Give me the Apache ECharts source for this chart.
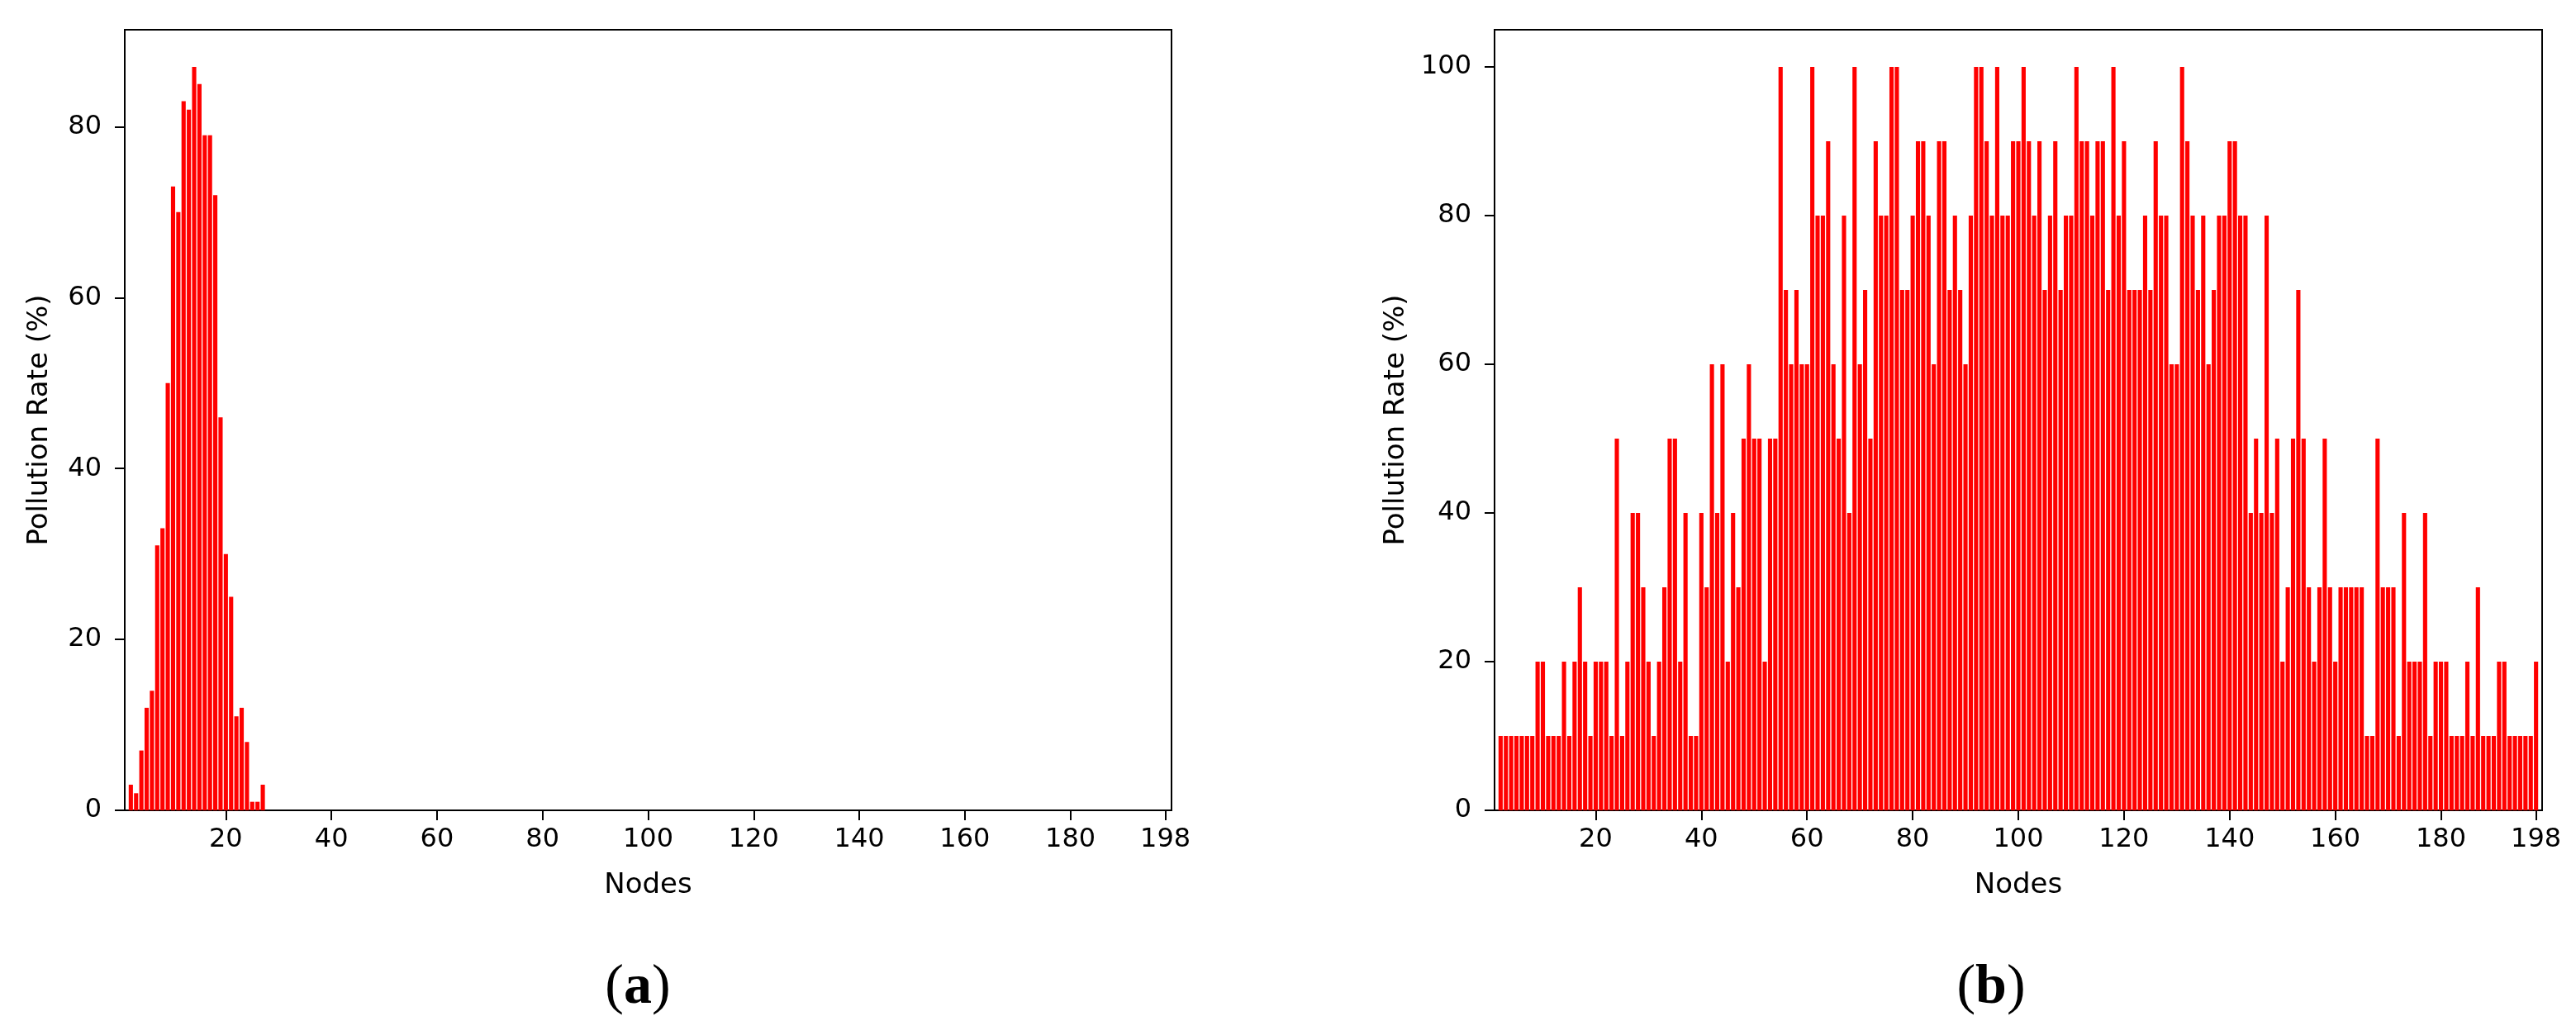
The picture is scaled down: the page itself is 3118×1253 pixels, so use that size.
<!DOCTYPE html>
<html>
<head>
<meta charset="utf-8">
<script src="https://cdn.jsdelivr.net/npm/echarts@6/dist/echarts.min.js"></script>
<style>
  html, body { margin: 0; padding: 0; background: #fff; }
  #chart { width: 3118px; height: 1253px; }
</style>
</head>
<body>
<div id="chart"></div>
<script>
// (a) first node with a bar is 2, later nodes are all 0
const firstNode = 2;
const rateA = [3, 2, 7, 12, 14, 31, 33, 50, 73, 70, 83, 82, 87, 85, 79, 79, 72, 46, 30, 25, 11, 12, 8, 1, 1, 3];

// (b) nodes 2..198
const rateB = [
  10, 10, 10, 10, 10, 10, 10, 20, 20, 10,
  10, 10, 20, 10, 20, 30, 20, 10, 20, 20,
  20, 10, 50, 10, 20, 40, 40, 30, 20, 10,
  20, 30, 50, 50, 20, 40, 10, 10, 40, 30,
  60, 40, 60, 20, 40, 30, 50, 60, 50, 50,
  20, 50, 50, 100, 70, 60, 70, 60, 60, 100,
  80, 80, 90, 60, 50, 80, 40, 100, 60, 70,
  50, 90, 80, 80, 100, 100, 70, 70, 80, 90,
  90, 80, 60, 90, 90, 70, 80, 70, 60, 80,
  100, 100, 90, 80, 100, 80, 80, 90, 90, 100,
  90, 80, 90, 70, 80, 90, 70, 80, 80, 100,
  90, 90, 80, 90, 90, 70, 100, 80, 90, 70,
  70, 70, 80, 70, 90, 80, 80, 60, 60, 100,
  90, 80, 70, 80, 60, 70, 80, 80, 90, 90,
  80, 80, 40, 50, 40, 80, 40, 50, 20, 30,
  50, 70, 50, 30, 20, 30, 50, 30, 20, 30,
  30, 30, 30, 30, 10, 10, 50, 30, 30, 30,
  10, 40, 20, 20, 20, 40, 10, 20, 20, 20,
  10, 10, 10, 20, 10, 30, 10, 10, 10, 20,
  20, 10, 10, 10, 10, 10, 20
];

const xTicks = [20, 40, 60, 80, 100, 120, 140, 160, 180, 198];
const yTicksA = [0, 20, 40, 60, 80];
const yTicksB = [0, 20, 40, 60, 80, 100];

const toPairs = (vals) => vals.map((v, i) => [firstNode + i, v]);

const font = 'DejaVu Sans';
const black = '#000';

const xAxisOf = (gridIndex) => ({
  type: 'value',
  gridIndex,
  min: 0.85,
  max: 199.15,
  name: 'Nodes',
  nameLocation: 'middle',
  nameGap: 74,
  nameTextStyle: { fontFamily: font, fontSize: 34, color: black },
  axisLine: { show: true, lineStyle: { color: black, width: 2 } },
  axisTick: { show: true, length: 12, customValues: xTicks, lineStyle: { color: black, width: 2 } },
  axisLabel: { customValues: xTicks, fontFamily: font, fontSize: 32, color: black, margin: 20 },
  splitLine: { show: false }
});

const yAxisOf = (gridIndex, max, ticks, gap) => ({
  type: 'value',
  gridIndex,
  min: 0,
  max,
  name: 'Pollution Rate (%)',
  nameLocation: 'middle',
  nameGap: gap,
  nameTextStyle: { fontFamily: font, fontSize: 34, color: black },
  axisLine: { show: true, lineStyle: { color: black, width: 2 } },
  axisTick: { show: true, length: 12, customValues: ticks, lineStyle: { color: black, width: 2 } },
  axisLabel: { customValues: ticks, fontFamily: font, fontSize: 32, color: black, margin: 28 },
  splitLine: { show: false }
});

const barSeries = (idx, data) => ({
  type: 'bar',
  xAxisIndex: idx,
  yAxisIndex: idx,
  data,
  barWidth: '80%',
  itemStyle: { color: '#ff0000' },
  silent: true
});

const caption = (x, letter) => ({
  type: 'text',
  x,
  y: 1196,
  style: {
    text: '{p|(}{b|' + letter + '}{p|)}',
    align: 'center',
    verticalAlign: 'middle',
    rich: {
      p: { fontFamily: 'Liberation Serif', fontSize: 68, fill: black },
      b: { fontFamily: 'Liberation Serif', fontSize: 68, fontWeight: 'bold', fill: black }
    }
  }
});

const chart = echarts.init(document.getElementById('chart'));
chart.setOption({
  animation: false,
  backgroundColor: '#fff',
  grid: [
    { left: 151, top: 36, width: 1267, height: 945, show: true, borderColor: black, borderWidth: 2 },
    { left: 1809, top: 36, width: 1268, height: 945, show: true, borderColor: black, borderWidth: 2 }
  ],
  xAxis: [xAxisOf(0), xAxisOf(1)],
  yAxis: [yAxisOf(0, 91.35, yTicksA, 86), yAxisOf(1, 105, yTicksB, 102)],
  series: [barSeries(0, toPairs(rateA)), barSeries(1, toPairs(rateB))],
  graphic: [caption(772, 'a'), caption(2410, 'b')]
});
</script>
</body>
</html>
